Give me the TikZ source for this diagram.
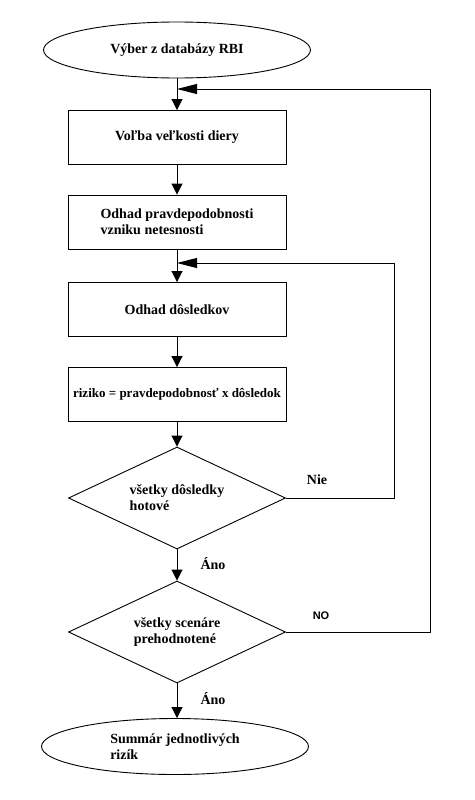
\documentclass[tikz,border=0pt]{standalone}
\usepackage{fontspec}
\setmainfont{Liberation Serif}
\setsansfont{Liberation Sans}
\usetikzlibrary{shapes.geometric,arrows.meta}
\begin{document}
\begin{tikzpicture}[x=1pt,y=-1pt,line width=0.9pt,
every node/.style={font=\bfseries\fontsize{14}{16}\selectfont},
oval/.style={draw,ellipse,minimum width=267pt,minimum height=56pt,inner sep=0pt},
krok/.style={draw,rectangle,minimum width=218pt,minimum height=54pt,inner sep=2pt},
test/.style={draw,diamond,shape aspect=2.1,minimum width=217pt,minimum height=102pt,inner sep=0pt},
sip/.style={-{Triangle[length=11pt,width=11pt]}},
spat/.style={-{Triangle[length=20pt,width=10pt]}}]
\useasboundingbox (0,0) rectangle (474,800);
\node[oval] (zac) at (177,50) {Výber z databázy RBI};
\node[krok] (volba) at (177,137.5) {Voľba veľkosti diery};
\node[krok,align=left] (pravd) at (177,222) {Odhad pravdepodobnosti\\vzniku netesnosti};
\node[krok] (dosl) at (177,309.5) {Odhad dôsledkov};
\node[krok,font=\bfseries\fontsize{13}{16}\selectfont] (rizi) at (177,394.5) {riziko = pravdepodobnosť x dôsledok};
\node[test,align=left] (hot) at (177,498) {všetky dôsledky\\hotové};
\node[test,align=left] (scen) at (177,632) {všetky scenáre\\prehodnotené};
\node[oval,align=left] (sum) at (175,746.5) {Summár jednotlivých\\rizík};
\coordinate (j1) at (177,89);
\coordinate (r1) at (430,89);
\coordinate (j2) at (177,263);
\coordinate (r2) at (394,263);
\draw[sip] (zac) -- (volba);
\draw[sip] (volba) -- (pravd);
\draw[sip] (pravd) -- (dosl);
\draw[sip] (dosl) -- (rizi);
\draw[sip] (rizi) -- (hot);
\draw[sip] (hot) -- (scen);
\draw[sip] (scen) -- (sum.north -| scen);
\draw[spat] (hot.east) -| (r2) -- (j2);
\draw[spat] (scen.east) -| (r1) -- (j1);
\node (nie) at (317,480) {Nie};
\node (ano1) at (213,564) {Áno};
\node (ano2) at (213,699) {Áno};
\node[font=\sffamily\bfseries\fontsize{11}{13}\selectfont] (no) at (321,616) {NO};
\end{tikzpicture}
\end{document}
